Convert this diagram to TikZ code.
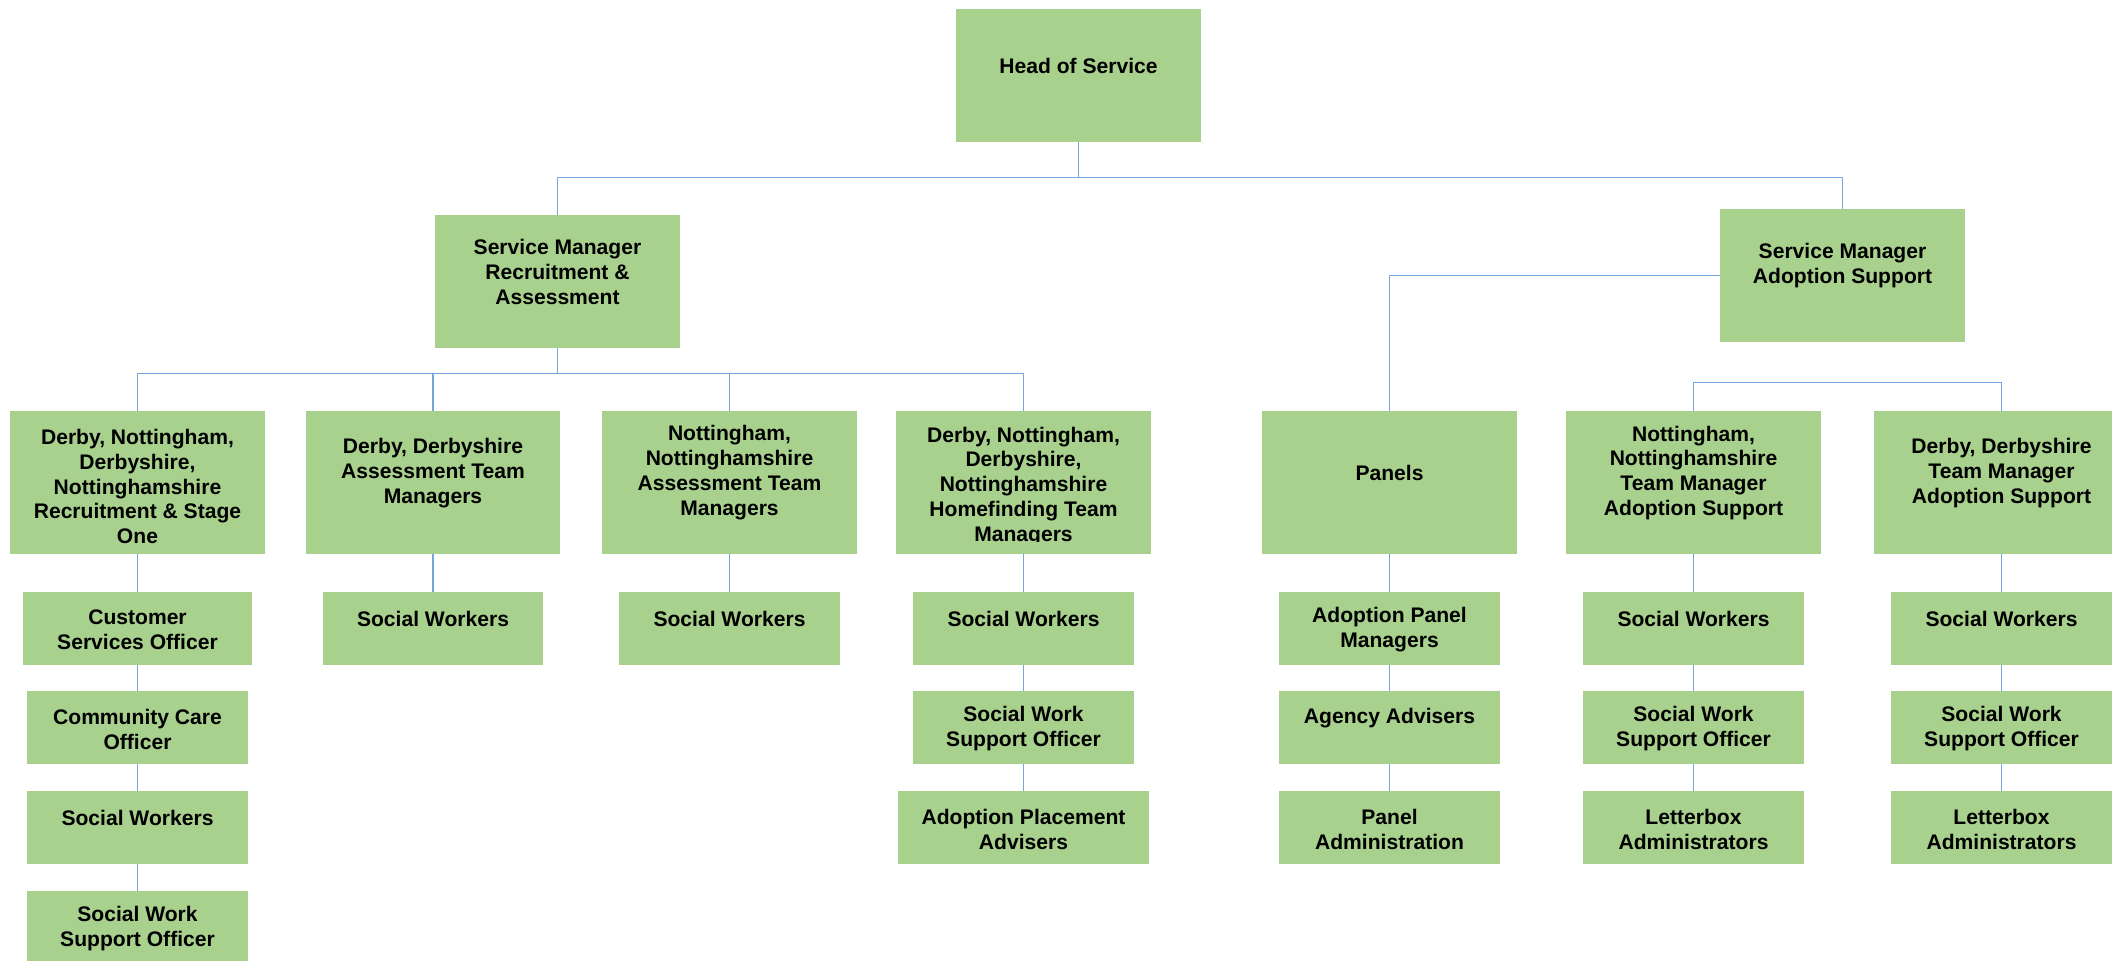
\documentclass[tikz,border=0pt]{standalone}
\usepackage{fontspec}
\setmainfont{Liberation Sans}
\definecolor{boxgreen}{RGB}{169,209,142}
\definecolor{linkblue}{RGB}{116,166,222}
\begin{document}
\begin{tikzpicture}[x=0.02cm, y=-0.02cm, line join=round,
  font=\fontsize{12}{14.2}\selectfont\bfseries,
  box/.style={fill=boxgreen, inner sep=0pt, minimum width=4.42cm, minimum height=1.46cm},
  headbox/.style={box, minimum width=4.9cm, minimum height=2.66cm},
  teambox/.style={box, minimum width=5.1cm, minimum height=2.86cm},
  lbl/.style={align=center, inner sep=0pt},
  txt/.style={lbl, yshift=0.19cm},
  twoline/.style={lbl, yshift=-0.03cm},
  fiveline/.style={lbl, yshift=-0.08cm},
  conn/.style={draw=linkblue, line width=0.85pt}]
\useasboundingbox (0,0) rectangle (2112,960);
\clip (0,0) rectangle (2112,960);
% managers
\node[headbox, label={[txt]center:Head of Service}] (hos) at (1078.5,75.5) {};
\node[headbox, label={[txt]center:{Service Manager\\Recruitment \&\\Assessment}}] (smra) at (557.5,281.5) {};
\node[headbox, label={[txt]center:{Service Manager\\Adoption Support}}] (smas) at (1842.5,275.5) {};
% teams
\node[teambox, label={[fiveline]center:{Derby, Nottingham,\\Derbyshire,\\Nottinghamshire\\Recruitment \& Stage\\One}}] (rsone) at (137.5,482.5) {};
\node[teambox, label={[txt]center:{Derby, Derbyshire\\Assessment Team\\Managers}}] (dasm) at (433,482.5) {};
\node[teambox, label={[txt]center:{Nottingham,\\Nottinghamshire\\Assessment Team\\Managers}}] (nasm) at (729.5,482.5) {};
\node[teambox] (homefind) at (1023.5,482.5) {};
\begin{scope}
  \clip (896,411) rectangle (1151,541);
  \node[fiveline] (homefindtxt) at (homefind) {Derby, Nottingham,\\Derbyshire,\\Nottinghamshire\\Homefinding Team\\Managers};
\end{scope}
\node[teambox, label={[txt]center:Panels}] (panels) at (1389.5,482.5) {};
\node[teambox, label={[txt]center:{Nottingham,\\Nottinghamshire\\Team Manager\\Adoption Support}}] (ntm) at (1693.5,482.5) {};
\node[teambox, label={[txt]center:{Derby, Derbyshire\\Team Manager\\Adoption Support}}] (dtm) at (2001.5,482.5) {};
% staff
\node[box, minimum width=4.6cm, label={[twoline]center:{Customer\\Services Officer}}] (cso) at (137.5,628.5) {};
\node[box, label={[twoline]center:{Community Care\\Officer}}] (cco) at (137.5,727.5) {};
\node[box, label={[txt]center:Social Workers}] (swa) at (137.5,827.5) {};
\node[box, label={[twoline]center:{Social Work\\Support Officer}}] (swsoa) at (137.5,927.5) {};
\node[box, label={[txt]center:Social Workers}] (swb) at (433,628.5) {};
\node[box, label={[txt]center:Social Workers}] (swc) at (729.5,628.5) {};
\node[box, label={[txt]center:Social Workers}] (swd) at (1023.5,628.5) {};
\node[box, label={[twoline]center:{Social Work\\Support Officer}}] (swsod) at (1023.5,727.5) {};
\node[box, minimum width=5.02cm, label={[twoline]center:{Adoption Placement\\Advisers}}] (apa) at (1023.5,827.5) {};
\node[box, label={[twoline]center:{Adoption Panel\\Managers}}] (apm) at (1389.5,628.5) {};
\node[box, label={[txt]center:Agency Advisers}] (aga) at (1389.5,727.5) {};
\node[box, label={[twoline]center:{Panel\\Administration}}] (padm) at (1389.5,827.5) {};
\node[box, label={[txt]center:Social Workers}] (swf) at (1693.5,628.5) {};
\node[box, label={[twoline]center:{Social Work\\Support Officer}}] (swsof) at (1693.5,727.5) {};
\node[box, label={[twoline]center:{Letterbox\\Administrators}}] (lba) at (1693.5,827.5) {};
\node[box, label={[txt]center:Social Workers}] (swg) at (2001.5,628.5) {};
\node[box, label={[twoline]center:{Social Work\\Support Officer}}] (swsog) at (2001.5,727.5) {};
\node[box, label={[twoline]center:{Letterbox\\Administrators}}] (lbb) at (2001.5,827.5) {};
% connectors
\draw[conn] (hos.south) -- ++(0,35) coordinate (hub);
\draw[conn] (hub) -| (smra.north);
\draw[conn] (hub) -| (smas.north);
\draw[conn] (smra.south) -- ++(0,25) coordinate (rahub);
\foreach \n in {rsone,dasm,nasm,homefind}
  \draw[conn] (rahub) -| (\n.north);
\draw[conn] (smas.west) -| (panels.north);
\draw[conn] (ntm.north) -- ++(0,-28) -| (dtm.north); %no stem
\draw[conn] (rsone) -- (cso) -- (cco) -- (swa) -- (swsoa);
\draw[conn] (dasm) -- (swb);
\draw[conn] (nasm) -- (swc);
\draw[conn] (homefind) -- (swd) -- (swsod) -- (apa);
\draw[conn] (panels) -- (apm) -- (aga) -- (padm);
\draw[conn] (ntm) -- (swf) -- (swsof) -- (lba);
\draw[conn] (dtm) -- (swg) -- (swsog) -- (lbb);
\end{tikzpicture}
\end{document}
